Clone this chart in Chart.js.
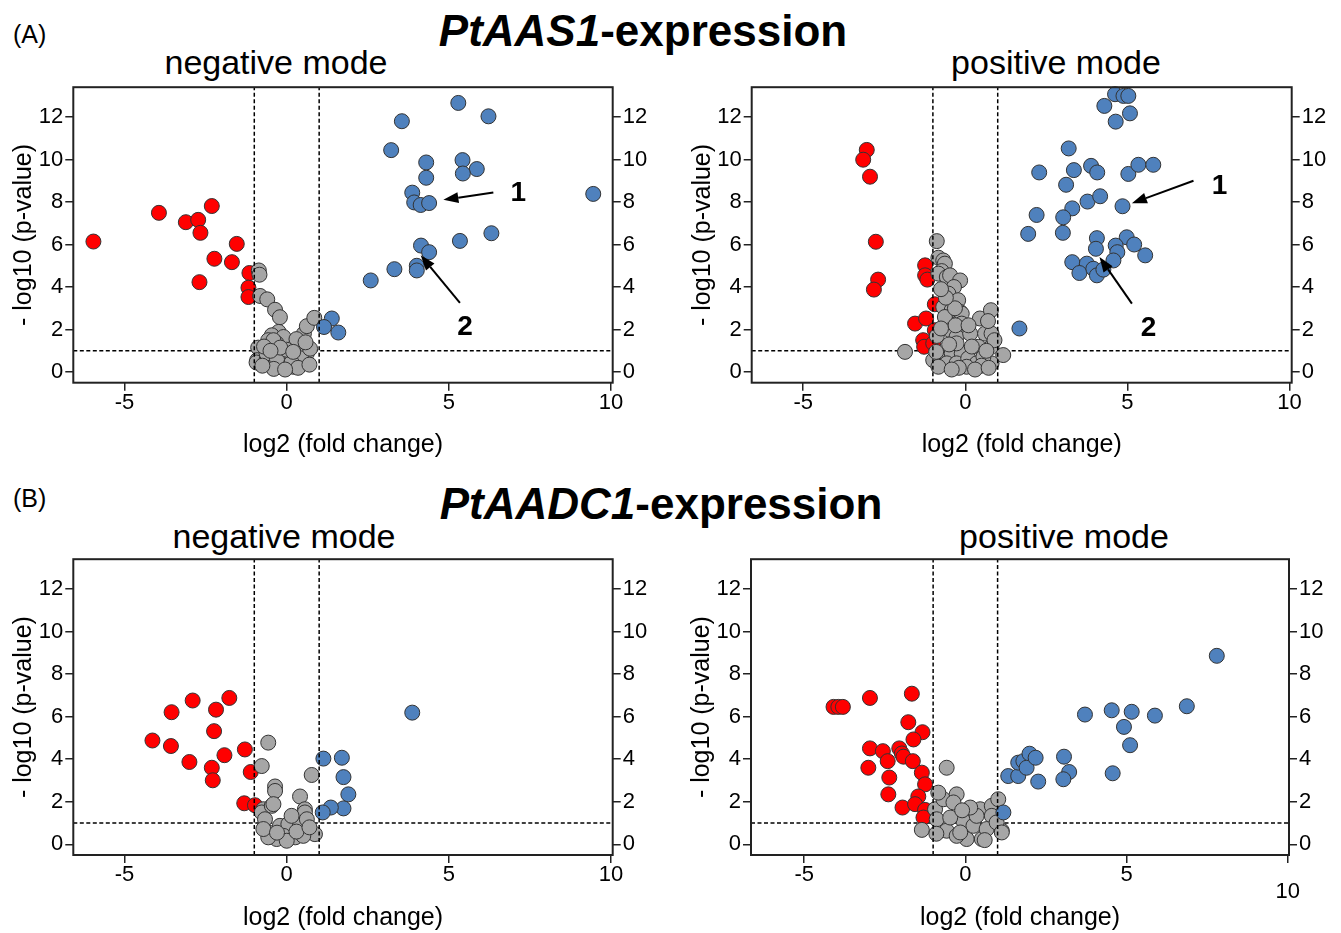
<!DOCTYPE html>
<html>
<head>
<meta charset="utf-8">
<script src="https://cdn.jsdelivr.net/npm/chart.js@4.4.1/dist/chart.umd.min.js"></script>
<style>
  body { margin: 0; background: #fff; width: 1341px; height: 933px; position: relative; overflow: hidden;
         font-family: "Liberation Sans", Arial, Helvetica, sans-serif; color: #000; }
  .txt { position: absolute; white-space: nowrap; line-height: 1; }
  .c { transform: translateX(-50%); }
  canvas { position: absolute; }
</style>
</head>
<body>
<div class="txt" style="left:13px; top:22px; font-size:25px">(A)</div>
<div class="txt c" style="left:643px; top:9px; font-size:44px; font-weight:bold"><i>PtAAS1</i>-expression</div>
<div class="txt c" style="left:276px; top:45px; font-size:34px">negative mode</div>
<div class="txt c" style="left:1056px; top:45px; font-size:34px">positive mode</div>

<div class="txt" style="left:13px; top:486px; font-size:25px">(B)</div>
<div class="txt c" style="left:661px; top:482px; font-size:44px; font-weight:bold"><i>PtAADC1</i>-expression</div>
<div class="txt c" style="left:284px; top:519px; font-size:34px">negative mode</div>
<div class="txt c" style="left:1064px; top:519px; font-size:34px">positive mode</div>

<script>
// ---- data: [log2 fold change, -log10 p] ----
const xTicks = [-5, 0, 5, 10];
const yTicks = [0, 2, 4, 6, 8, 10, 12];
const fcCut = 1;
const pCut = 1;

// (A) PtAAS1, negative mode
const aNegDown = [[-5.96,6.14],[-3.94,7.49],[-3.11,7.05],[-2.73,7.16],[-2.31,7.81],[-2.66,6.55],[-1.54,6.03],
  [-2.23,5.33],[-1.69,5.17],[-2.69,4.23],[-1.15,4.66],[-1.18,3.97],[-1.18,3.53]];
const aNegNs = [[-0.86,4.78],[-0.84,4.58],[-0.82,3.58],[-0.6,3.42],[-0.36,2.93],[-0.21,2.58],[-0.25,1.89],
  [-0.46,1.73],[-0.1,1.65],[-0.31,1.35],[-0.57,1.5],[-0.41,1.5],[-0.88,1.15],[-0.91,0.56],[-0.93,0.45],
  [-0.62,0.6],[-0.36,0.88],[-0.1,0.48],[0.1,0.72],[0.41,1.35],[0.53,1.81],[0.62,2.16],[0.85,2.55],
  [0.41,0.48],[0.31,0.88],[0.51,0.56],[0.05,0.25],[-0.21,0.25],[0.26,0.33],[-0.51,0.33],[0.62,0.88],
  [-0.15,0.41],[0.2,0.25],[0.46,0.64],[-0.62,0.88],[0.0,0.6],[-0.3,0.6],[0.15,0.45],[0.35,0.2],
  [-0.4,0.15],[-0.05,0.12],[-0.75,0.3],[0.7,0.35],[0.72,1.1],[-0.7,1.2],[0.3,1.55],[0.0,1.05],
  [-0.2,1.15],[0.58,1.4],[-0.5,1.0],[0.2,0.95]];
const aNegUp = [[5.29,12.66],[6.22,12.03],[3.55,11.8],[3.22,10.44],[4.3,9.86],[5.42,9.97],[5.86,9.55],
  [5.43,9.34],[4.3,9.14],[3.87,8.44],[3.93,7.98],[4.13,7.86],[4.39,7.95],[9.45,8.38],[6.31,6.53],
  [5.34,6.17],[4.14,5.95],[4.39,5.64],[4.01,5.0],[4.01,4.78],[3.32,4.84],[2.59,4.31],[1.39,2.52],
  [1.59,1.86],[1.15,2.12]];
const aNegArrows = [[6.37,8.45,4.83,8.10],[5.34,3.25,4.13,5.49]];
const aNegTags = [[7.14,8.41,'1'],[5.5,2.12,'2']];

// (A) PtAAS1, positive mode
const aPosDown = [[-3.04,10.45],[-3.15,9.99],[-2.94,9.19],[-2.76,6.13],[-2.69,4.35],[-2.82,3.88],
  [-1.24,5.02],[-1.24,4.55],[-1.17,4.35],[-0.94,3.19],[-1.55,2.28],[-1.21,2.52],[-0.94,1.97],
  [-1.3,1.5],[-1.27,1.19],[-0.99,1.35]];
const aPosNs = [[-0.88,6.16],[-0.83,5.38],[-0.68,5.25],[-0.63,5.1],[-0.73,4.75],[-0.83,4.63],[-0.57,4.47],
  [-0.47,4.55],[-0.16,4.31],[-0.35,4.0],[-0.52,3.69],[-0.22,3.38],[-0.68,3.06],[-0.42,2.91],[-0.16,2.83],
  [-0.11,2.75],[-0.63,2.59],[-0.11,2.28],[-0.47,1.97],[-0.27,1.65],[0.15,1.81],[0.45,2.52],[0.79,2.91],
  [0.61,1.81],[0.81,1.81],[0.4,1.19],[0.81,1.19],[1.17,0.8],[0.81,0.41],[-1.86,0.95],[-0.78,0.8],
  [-0.42,0.88],[-0.11,0.88],[-0.99,0.56],[-0.57,0.41],[-0.27,0.41],[0.09,0.64],[0.35,0.41],[0.04,0.25],
  [0.56,0.72],[-0.83,0.25],[-0.27,1.35],[-0.3,2.2],[0.2,1.2],[-0.5,1.3],[0.5,0.3],[-0.2,0.2],
  [0.7,2.4],[0.9,1.5],[0.65,1.0],[-0.88,1.7],[-0.75,2.05],[-0.32,3.0],[0.1,2.2],[-0.9,0.95],
  [0.3,0.12],[-0.42,0.12],[0.72,0.2],[-0.6,3.5],[-0.75,3.9]];
const aPosUp = [[4.62,13.07],[4.88,12.99],[5.03,12.99],[4.29,12.52],[5.08,12.17],[4.64,11.78],[3.19,10.52],
  [2.28,9.39],[3.35,9.5],[3.88,9.7],[4.07,9.39],[5.03,9.32],[5.34,9.75],[5.8,9.75],[3.11,8.81],
  [3.77,8.02],[4.16,8.27],[4.85,7.8],[3.3,7.7],[3.02,7.28],[2.2,7.39],[1.94,6.5],[3.01,6.55],
  [4.06,6.3],[4.03,5.8],[4.98,6.34],[5.21,6.0],[4.64,5.95],[4.69,5.64],[5.55,5.49],[4.57,5.25],
  [3.3,5.17],[3.75,5.1],[3.52,4.66],[3.95,4.86],[4.06,4.55],[4.26,4.82],[1.67,2.05]];
const aPosArrows = [[7.04,9.0,5.14,7.94],[5.14,3.22,4.14,5.41]];
const aPosTags = [[7.84,8.72,'1'],[5.65,2.05,'2']];

// (B) PtAADC1, negative mode
const bNegDown = [[-4.14,4.88],[-3.55,6.21],[-3.57,4.62],[-2.9,6.76],[-3.0,3.87],[-2.18,6.33],[-1.77,6.88],
  [-2.24,5.32],[-1.92,4.19],[-1.29,4.46],[-2.31,3.6],[-2.28,3.01],[-1.11,3.4],[-1.31,1.93],[-0.98,1.84]];
const bNegNs = [[-0.57,4.78],[-0.77,3.68],[-0.36,2.72],[-0.36,2.51],[0.77,3.26],[0.41,2.25],[0.56,1.65],
  [0.56,1.5],[-0.72,1.65],[-0.77,1.5],[-0.46,1.81],[-0.41,1.89],[-0.67,1.18],[-0.57,0.56],[-0.21,0.87],
  [0.05,0.95],[0.41,0.9],[0.62,1.18],[0.87,0.48],[-0.1,0.4],[0.26,0.33],[-0.31,0.25],[0.0,0.17],
  [0.51,0.4],[-0.57,0.33],[-0.72,0.72],[0.15,1.34],[0.3,0.6],[-0.3,0.55],[0.7,0.8]];
const bNegUp = [[1.13,4.03],[1.7,4.07],[1.75,3.16],[1.9,2.35],[1.75,1.69],[1.36,1.73],[1.11,1.5],[3.87,6.19]];

// (B) PtAADC1, positive mode
const bPosDown = [[-4.09,6.46],[-3.94,6.46],[-3.8,6.46],[-2.96,6.88],[-1.66,7.08],[-1.77,5.74],[-1.33,5.27],
  [-1.61,4.93],[-2.96,4.51],[-2.56,4.38],[-2.41,3.91],[-2.05,4.51],[-1.97,4.27],[-1.92,4.12],[-1.63,3.91],
  [-3.01,3.6],[-2.36,3.14],[-1.35,3.37],[-1.25,2.82],[-2.39,2.35],[-1.46,2.25],[-1.95,1.73],[-1.56,1.89],
  [-1.25,1.62],[-1.3,1.26]];
const bPosNs = [[-0.58,3.6],[-0.94,1.65],[-0.68,2.12],[-0.27,2.35],[-0.37,1.97],[-0.89,1.18],[-1.35,0.68],
  [-0.58,0.64],[-0.06,1.1],[0.46,1.65],[0.82,1.81],[1.02,2.12],[0.82,1.34],[1.13,0.64],[0.51,0.25],
  [0.04,0.25],[-0.27,0.4],[0.25,0.87],[-0.84,2.43],[-0.16,0.56],[0.66,0.72],[0.97,1.03],[0.35,1.34],
  [-0.47,1.26],[0.15,1.73],[1.13,0.56],[-0.9,0.5],[0.6,0.2],[-0.1,1.6]];
const bPosUp = [[1.18,1.5],[1.33,3.21],[1.64,3.21],[1.64,3.84],[1.8,3.91],[1.99,4.26],[1.9,3.6],[2.18,4.07],
  [2.26,2.95],[3.06,4.12],[3.22,3.4],[3.04,3.06],[3.71,6.1],[4.54,6.3],[5.16,6.23],[4.92,5.52],[5.11,4.66],
  [4.57,3.34],[5.88,6.05],[6.87,6.49],[7.8,8.86]];

const RED = '#ff0000', BLUE = '#4f81bd', GREY = '#a6a6a6', EDGE = '#333333';
const yMin = -0.5, yMax = 13.4;

Chart.defaults.font.family = '"Liberation Sans", Arial, Helvetica, sans-serif';
Chart.defaults.color = '#000';

const panels = [
  { L: 73.3, T: 86, R: 612.7, B: 382.7, xMin: -6.58, xMax: 10.05, titleGap: 62,
    down: aNegDown, ns: aNegNs, up: aNegUp, arrows: aNegArrows, tags: aNegTags },
  { L: 751.7, T: 86, R: 1291.7, B: 382.7, xMin: -6.59, xMax: 10.07, titleGap: 62,
    down: aPosDown, ns: aPosNs, up: aPosUp, arrows: aPosArrows, tags: aPosTags },
  { L: 73.3, T: 558.3, R: 612.7, B: 855, xMin: -6.58, xMax: 10.05, titleGap: 63,
    down: bNegDown, ns: bNegNs, up: bNegUp, arrows: [], tags: [] },
  { L: 751, T: 558.3, R: 1289, B: 855, xMin: -6.65, xMax: 10.04, titleGap: 63, lowTick: 10,
    down: bPosDown, ns: bPosNs, up: bPosUp, arrows: [], tags: [] }
];

const toXY = arr => arr.map(d => ({ x: d[0], y: d[1] }));

function pointSet(arr, color, order) {
  return { data: toXY(arr), backgroundColor: color, borderColor: EDGE, borderWidth: 1,
           pointRadius: 7.5, pointHoverRadius: 7.5, order: order, clip: false };
}
function cutLine(pts, order) {
  return { type: 'line', data: pts, borderColor: '#000', borderWidth: 1.5, borderDash: [4, 2.5],
           pointRadius: 0, fill: false, order: order };
}

// box around the plot area
const framePlugin = {
  id: 'frame',
  afterDraw(chart) {
    const a = chart.chartArea, ctx = chart.ctx;
    ctx.save();
    ctx.strokeStyle = '#222';
    ctx.lineWidth = 2;
    ctx.strokeRect(a.left, a.top, a.right - a.left, a.bottom - a.top);
    ctx.restore();
  }
};

// arrows + numbers pointing at compounds 1 and 2
function arrowPlugin(p) {
  return {
    id: 'arrows',
    afterDatasetsDraw(chart) {
      const sx = chart.scales.x, sy = chart.scales.y, ctx = chart.ctx;
      ctx.save();
      ctx.strokeStyle = '#000';
      ctx.fillStyle = '#000';
      ctx.lineWidth = 2;
      p.arrows.forEach(a => {
        const x0 = sx.getPixelForValue(a[0]), y0 = sy.getPixelForValue(a[1]);
        const x1 = sx.getPixelForValue(a[2]), y1 = sy.getPixelForValue(a[3]);
        const ang = Math.atan2(y1 - y0, x1 - x0), hl = 15, hw = 5.5;
        const bx = x1 - hl * Math.cos(ang), by = y1 - hl * Math.sin(ang);
        ctx.beginPath();
        ctx.moveTo(x0, y0);
        ctx.lineTo(bx, by);
        ctx.stroke();
        ctx.beginPath();
        ctx.moveTo(x1, y1);
        ctx.lineTo(bx + hw * Math.sin(ang), by - hw * Math.cos(ang));
        ctx.lineTo(bx - hw * Math.sin(ang), by + hw * Math.cos(ang));
        ctx.closePath();
        ctx.fill();
      });
      ctx.font = 'bold 28px "Liberation Sans", Arial, sans-serif';
      ctx.textAlign = 'center';
      ctx.textBaseline = 'middle';
      p.tags.forEach(t => ctx.fillText(t[2], sx.getPixelForValue(t[0]), sy.getPixelForValue(t[1])));
      ctx.restore();
    }
  };
}

const tickGrid = { drawOnChartArea: false, drawTicks: true, tickLength: 8, color: '#222', lineWidth: 1.5 };

panels.forEach(p => {
  const cl = Math.floor(p.L - 64), ct = Math.floor(p.T - 14);
  const cr = Math.min(1341, Math.ceil(p.R + 48)), cb = Math.min(933, Math.ceil(p.B + 78));
  const cv = document.createElement('canvas');
  cv.width = cr - cl; cv.height = cb - ct;
  cv.style.left = cl + 'px'; cv.style.top = ct + 'px';
  cv.style.width = (cr - cl) + 'px'; cv.style.height = (cb - ct) + 'px';
  document.body.appendChild(cv);

  const yAxis = (pos, extra) => Object.assign({
    type: 'linear', position: pos, min: yMin, max: yMax,
    afterBuildTicks: s => { s.ticks = yTicks.map(v => ({ value: v })); },
    ticks: { font: { size: 22 }, color: '#000', padding: 2, autoSkip: false, callback: v => String(v) },
    grid: tickGrid, border: { display: false }
  }, extra);

  new Chart(cv, {
    type: 'scatter',
    data: {
      datasets: [
        cutLine([{ x: -fcCut, y: yMin }, { x: -fcCut, y: yMax }], 0),
        cutLine([{ x: fcCut, y: yMin }, { x: fcCut, y: yMax }], 0),
        pointSet(p.up, BLUE, 1),
        pointSet(p.ns, GREY, 2),
        pointSet(p.down, RED, 3),
        cutLine([{ x: p.xMin, y: pCut }, { x: p.xMax, y: pCut }], 4)
      ]
    },
    options: {
      responsive: false,
      animation: false,
      layout: { padding: { top: p.T - ct, left: 0, right: 0, bottom: 0 } },
      plugins: { legend: { display: false }, tooltip: { enabled: false } },
      scales: {
        x: {
          type: 'linear', position: 'bottom', min: p.xMin, max: p.xMax,
          afterBuildTicks: s => { s.ticks = xTicks.map(v => ({ value: v })); },
          afterFit: s => { s.height = cb - p.B; },
          ticks: { font: { size: 22, lineHeight: 0.8 }, color: '#000', padding: 3, autoSkip: false, maxRotation: 0,
                   callback: v => (v === p.lowTick ? ['', String(v)] : String(v)) },
          grid: tickGrid, border: { display: false },
          title: { display: true, text: 'log2 (fold change)', color: '#000', font: { size: 25, lineHeight: 1.2 },
                   padding: { top: 0, bottom: cb - (p.B + p.titleGap) - 15 } }
        },
        y: yAxis('left', {
          afterFit: s => { s.width = p.L - cl; },
          title: { display: true, text: '- log10 (p-value)', color: '#000', font: { size: 25, lineHeight: 1.2 },
                   padding: { top: (p.L - 49) - cl - 15, bottom: 0 } }
        }),
        y2: yAxis('right', { afterFit: s => { s.width = cr - p.R; } })
      }
    },
    plugins: [framePlugin, arrowPlugin(p)]
  });
});
</script>
</body>
</html>
